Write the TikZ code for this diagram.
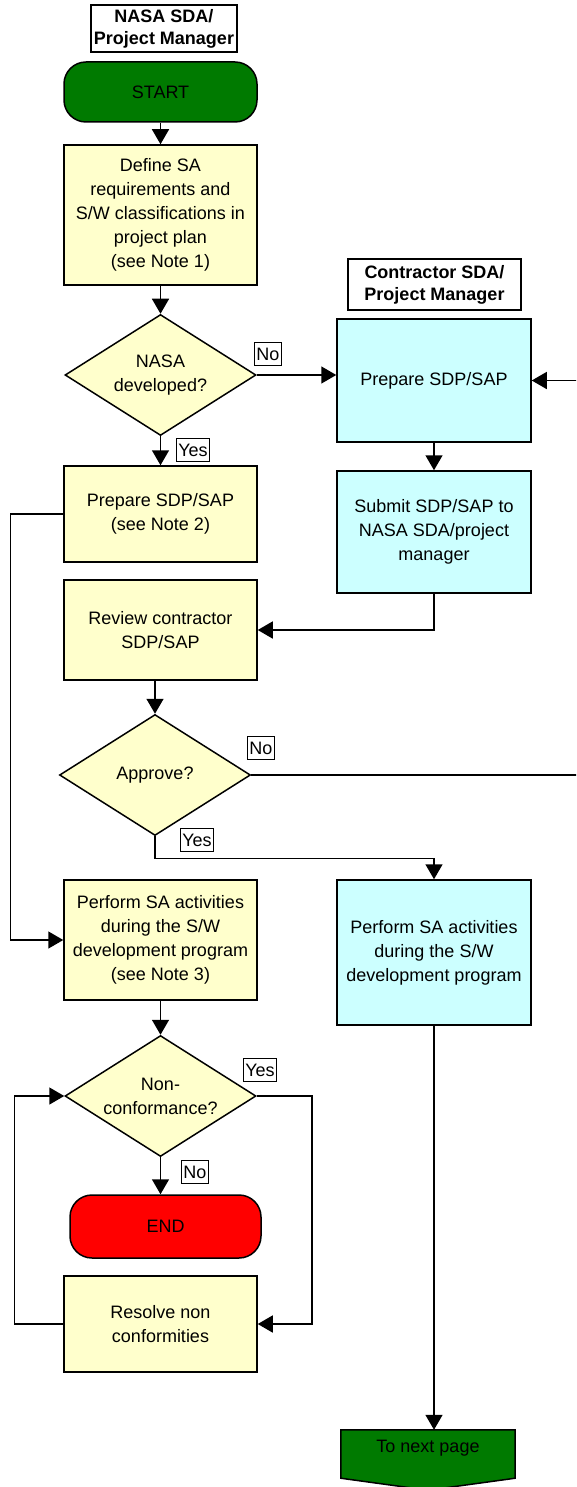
\documentclass[tikz,border=0pt]{standalone}
\usepackage{fontspec}
\setmainfont{Liberation Sans}
\usetikzlibrary{arrows.meta, shapes.geometric, backgrounds}
\definecolor{boxyel}{HTML}{FFFFCC}
\definecolor{boxcyan}{HTML}{CCFFFF}
\definecolor{startgreen}{HTML}{007A00}
\definecolor{endred}{HTML}{FF0000}

\begin{document}
\begin{tikzpicture}[x=1pt, y=-1pt, font=\fontsize{18}{24}\selectfont,
  b/.style={draw, line width=1.5pt, fill=boxyel, align=center, inner sep=0pt, minimum width=193pt},
  cy/.style={b, fill=boxcyan, minimum width=194pt},
  dec/.style={diamond, draw, line width=1.5pt, fill=boxyel, aspect=1.6, align=center, inner sep=0pt, minimum width=191pt, minimum height=121pt},
  term/.style={draw, line width=1.5pt, rounded corners=22pt, align=center},
  hd/.style={draw, line width=1.2pt, fill=white, align=center, inner sep=2pt, font=\fontsize{18}{22}\selectfont\bfseries},
  yn/.style={draw, line width=0.9pt, fill=white, inner sep=2pt, minimum height=23pt},
  a/.style={-{Triangle[length=15pt, width=17pt]}, line width=1.5pt, draw=black}]
  \useasboundingbox (0,0) rectangle (576,1487);
  \clip (0,0) rectangle (576,1487);

  % swim lane headers
  \node[hd, minimum width=146pt, minimum height=47pt] (hdn) at (164,28.5) {NASA SDA/\\Project Manager};
  \node[hd, minimum width=173pt, minimum height=51pt] (hdc) at (434.5,284.5) {Contractor SDA/\\Project Manager};

  % NASA side
  \node[term, fill=startgreen, minimum width=193pt, minimum height=60pt] (start) at (160.5,92) {START};
  \node[b, minimum height=140pt] (def) at (160.5,215) {Define SA\\requirements and\\S/W classifications in\\project plan\\(see Note 1)};
  \node[dec] (dev) at (160.5,375) {NASA\\developed?};
  \node[b, minimum height=96pt] (prepn) at (160.5,514) {Prepare SDP/SAP\\(see Note 2)};
  \node[b, minimum height=100pt] (rev) at (160.5,630) {Review contractor\\SDP/SAP};
  \node[dec] (appr) at (155,775) {Approve?};
  \node[b, minimum height=120pt] (perfn) at (160.5,940) {Perform SA activities\\during the S/W\\development program\\(see Note 3)};
  \node[dec] (nc) at (160.5,1096) {Non-\\conformance?};
  \node[term, fill=endred, minimum width=191pt, minimum height=63pt] (fin) at (165.5,1226.5) {END};
  \node[b, minimum height=96pt] (res) at (160.5,1324) {Resolve non\\conformities};

  % contractor side
  \node[cy, minimum height=123pt] (prepc) at (434,380.5) {Prepare SDP/SAP};
  \node[cy, minimum height=122pt] (subm) at (434,532) {Submit SDP/SAP to\\NASA SDA/project\\manager};
  \node[cy, minimum height=145pt] (perfc) at (434,952.5) {Perform SA activities\\during the S/W\\development program};
  \node[minimum width=174pt, minimum height=36pt, inner sep=0pt] (nxt) at (428,1448) {To next page};
  \begin{scope}[on background layer]
    \filldraw[fill=startgreen, line width=1.5pt] (nxt.north west) -- (nxt.north east)
      -- ([yshift=-12pt]nxt.south east) -- ([yshift=-24pt]nxt.south)
      -- ([yshift=-12pt]nxt.south west) -- cycle;
  \end{scope}

  % branch labels
  \node[yn] (no1) at (268,354) {No};
  \node[yn] (yes1) at (193,450) {Yes};
  \node[yn] (no2) at (261,748) {No};
  \node[yn] (yes2) at (197,840) {Yes};
  \node[yn] (yes3) at (260,1070) {Yes};
  \node[yn] (no3) at (195,1172) {No};

  \draw[a] (start) -- (def);
  \draw[a] (def) -- (dev);
  \draw[a] (dev) -- (prepn);
  \draw[a] (dev.east) -- (dev.east -| prepc.west);
  \draw[a] (prepc) -- (subm);
  \draw[a] (subm.south) |- (rev.east);
  \draw[a] (appr.north |- rev.south) -- (appr.north);
  \draw[a] (prepn.west) -- ++(-53,0) |- (perfn.west);
  \draw[a] (appr.south) -- ++(0,22) -| (perfc.north);
  % the rejection loop runs off the right edge and back into the contractor lane
  \draw[a] (appr.east) -- ++(340,0) |- (prepc.east);
  \draw[a] (perfn) -- (nc);
  \draw[a] (nc.south) -- (nc.south |- fin.north);
  \draw[a] (nc.east) -- ++(55,0) |- (res.east);
  \draw[a] (res.west) -- ++(-49,0) |- (nc.west);
  \draw[a] (perfc.south) -- (perfc.south |- nxt.north);
\end{tikzpicture}
\end{document}
